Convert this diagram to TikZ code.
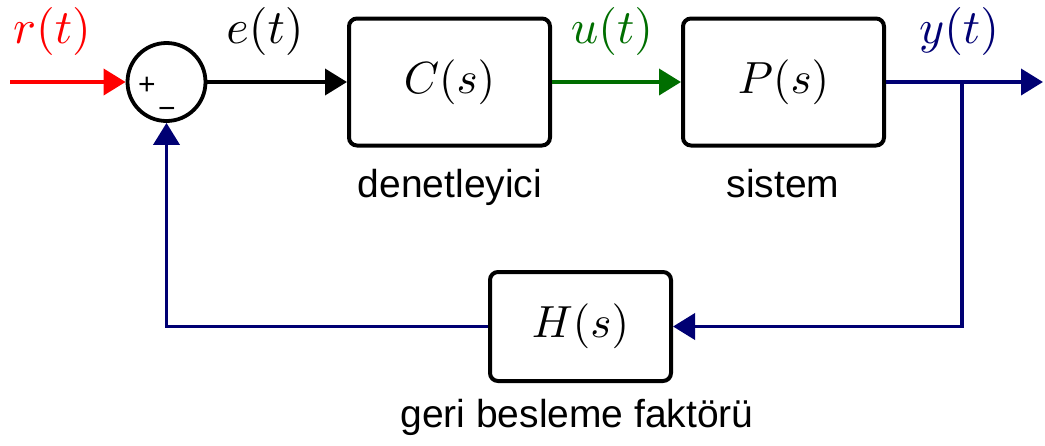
\documentclass[tikz,border=0pt]{standalone}
\usepackage{graphicx}
\usepackage{fontspec}
\setsansfont{Liberation Sans}
\usetikzlibrary{arrows.meta}
\definecolor{sigred}{RGB}{255,0,0}
\definecolor{siggreen}{RGB}{0,110,0}
\definecolor{signavy}{RGB}{0,0,115}
\newcommand{\bigmath}[2]{\scalebox{#1}{$#2$}}
\begin{document}
\begin{tikzpicture}[x=1pt,y=-1pt,
  blockbox/.style={draw, line width=4pt, rounded corners=8pt, minimum width=201pt, minimum height=127pt, inner sep=0pt},
  sumnode/.style={circle, draw, line width=3.8pt, minimum size=78pt, inner sep=0pt},
  sig/.style={line width=3.8pt, -{Triangle[length=22pt,width=26pt]}},
  siglabel/.style={anchor=base, inner sep=0pt},
  caption/.style={anchor=base, inner sep=0pt, font=\sffamily\fontsize{39}{44}\selectfont},
  signmark/.style={inner sep=0pt, font=\sffamily\fontsize{30}{32}\selectfont}]
\useasboundingbox (0,0) rectangle (1045,445);
\node[sumnode] (sum) at (166.5,82) {};
\node[signmark] (plus) at (147,86) {+};
\node[signmark] (minus) at (167,113) {−};
\node[blockbox] (C) at (449.5,82) {\bigmath{4.5}{C(s)}};
\node[blockbox] (P) at (783.5,82) {\bigmath{4.5}{P(s)}};
\node[blockbox, minimum width=181pt, minimum height=109pt] (H) at (580.5,326.5) {\bigmath{4.5}{H(s)}};
\coordinate (rin) at (10,82);
\coordinate (yout) at (1043,82);
\coordinate (branch) at (962,82);
\draw[sig, sigred] (rin) -- (sum.west);
\draw[sig] (sum.east) -- (C.west);
\draw[sig, siggreen] (C.east) -- (P.west);
\draw[sig, signavy] (P.east) -- (yout);
\draw[sig, signavy] (branch) |- (H.east);
\draw[sig, signavy] (H.west) -| (sum.south);
\node[siglabel, sigred] (rl) at (52,43) {\bigmath{4.8}{r(t)}};
\node[siglabel] (el) at (265,43) {\bigmath{4.8}{e(t)}};
\node[siglabel, siggreen] (ul) at (612,43) {\bigmath{4.8}{u(t)}};
\node[siglabel, signavy] (yl) at (959,43) {\bigmath{4.8}{y(t)}};
\node[caption] (cl) at (450,197) {denetleyici};
\node[caption] (pl) at (783,197) {sistem};
\node[caption] (hl) at (577,427) {geri besleme faktörü};
\end{tikzpicture}
\end{document}
